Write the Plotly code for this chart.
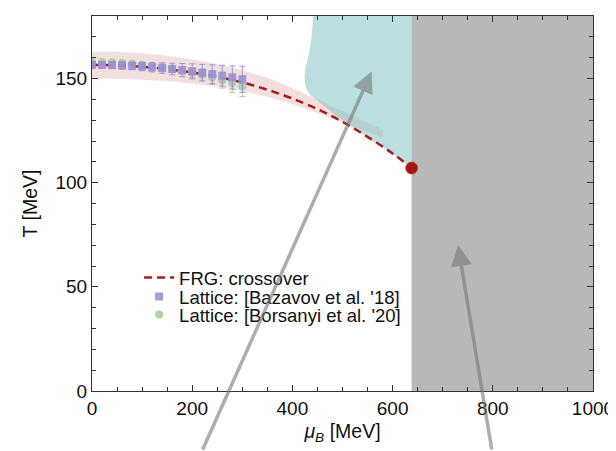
import plotly.graph_objects as go

# ---- data ----
frg_mu = [0, 50, 100, 150, 200, 250, 300, 350, 400, 450, 500, 550, 600, 638]
frg_T = [156.5, 156.3, 155.6, 154.5, 152.9, 150.8, 148.1, 144.6, 140.4, 135.3, 129.2, 122.0, 114.0, 107.0]

cep_mu = [638]
cep_T = [107.0]

band_mu = [0, 50, 100, 150, 200, 250, 300, 350, 400, 450, 500, 550, 580]
band_hi = [163.0, 162.8, 162.1, 160.9, 159.2, 157.0, 154.0, 150.3, 145.5, 140.0, 134.5, 129.0, 125.5]
band_lo = [150.0, 149.9, 149.5, 148.8, 147.6, 146.0, 143.9, 141.2, 137.8, 133.5, 129.0, 124.5, 121.5]

teal_mu = [442, 440, 437, 433, 430, 426, 424.5, 425, 428.5, 436, 448.5, 475, 508, 550, 600, 638, 638]
teal_T = [180, 173, 167, 162, 159, 155, 151, 147.5, 144.5, 142, 139.7, 134.5, 128.5, 121.5, 113.8, 107, 180]

lat_mu = [0, 20, 40, 60, 80, 100, 120, 140, 160, 180, 200, 220, 240, 260, 280, 300]
baz_T = [156.5, 156.47, 156.38, 156.22, 156.01, 155.73, 155.40, 155.0, 154.54, 154.02, 153.43, 152.79, 152.08, 151.32, 150.49, 149.6]
baz_err = [1.5, 1.5, 1.6, 1.7, 1.8, 2.0, 2.2, 2.5, 2.8, 3.2, 3.6, 4.0, 4.5, 5.0, 5.6, 6.3]
bor_T = [158.0, 157.95, 157.79, 157.53, 157.17, 156.7, 156.13, 155.45, 154.67, 153.79, 152.8, 151.71, 150.51, 149.21, 147.81, 146.3]
bor_err = [0.6, 0.6, 0.7, 0.8, 0.9, 1.0, 1.2, 1.4, 1.7, 2.0, 2.4, 2.8, 3.3, 3.8, 4.4, 5.0]

gray_mu = [638, 1000]
T_range = [0, 180]

# arrows: (tail_mu, tail_T, head_mu, head_T)
arrows = [(219.6, -28.8, 558, 153.3), (798.4, -28.8, 730.5, 70.1)]

x_ticks = [0, 200, 400, 600, 800, 1000]
y_ticks = [0, 50, 100, 150]

FONT = "Liberation Sans, Arial, Helvetica, sans-serif"

fig = go.Figure()

# uncertainty band
fig.add_trace(go.Scatter(
    x=band_mu + band_mu[::-1], y=band_hi + band_lo[::-1],
    fill="toself", fillcolor="rgba(205,110,110,0.22)",
    line=dict(width=0), mode="lines", hoverinfo="skip", showlegend=False))

# teal region
fig.add_trace(go.Scatter(
    x=teal_mu, y=teal_T, fill="toself", fillcolor="rgba(120,190,190,0.5)",
    line=dict(width=0), mode="lines", hoverinfo="skip", showlegend=False))

# FRG crossover line
fig.add_trace(go.Scatter(
    x=frg_mu, y=frg_T, mode="lines", name="FRG: crossover", legend="legend",
    line=dict(color="#a81c1c", width=2.5, dash="8px,5px", shape="spline")))

# lattice Borsanyi (drawn behind)
fig.add_trace(go.Scatter(
    x=lat_mu, y=bor_T, mode="markers", name="Lattice: [Borsanyi et al. '20]", legend="legend3",
    marker=dict(symbol="circle", size=8, color="rgba(160,205,150,0.85)"),
    error_y=dict(type="data", array=bor_err, color="rgba(160,205,150,0.9)", thickness=1, width=3)))

# lattice Bazavov
fig.add_trace(go.Scatter(
    x=lat_mu, y=baz_T, mode="markers", name="Lattice: [Bazavov et al. '18]", legend="legend2",
    marker=dict(symbol="square", size=8, color="rgba(150,140,215,0.85)"),
    error_y=dict(type="data", array=baz_err, color="rgba(150,140,215,0.9)", thickness=1, width=3)))

# critical end point
fig.add_trace(go.Scatter(
    x=cep_mu, y=cep_T, mode="markers", showlegend=False,
    marker=dict(size=12, color="#a01818", line=dict(width=1, color="rgba(200,60,60,0.8)"))))

fig.add_shape(type="rect", xref="x", yref="y", x0=gray_mu[0], x1=gray_mu[1],
              y0=T_range[0], y1=T_range[1], fillcolor="#b8b8b8", line=dict(width=0), layer="below")

for (tx, ty, hx, hy) in arrows:
    fig.add_annotation(x=hx, y=hy, ax=tx, ay=ty, xref="x", yref="y", axref="x", ayref="y",
                       showarrow=True, arrowhead=2, arrowsize=1.2, arrowwidth=3.5,
                       arrowcolor="rgba(120,120,120,0.6)", text="")

axis_common = dict(showline=True, linecolor="#333333", linewidth=1, mirror="ticks",
                   ticks="inside", tickcolor="#333333", showgrid=False, zeroline=False,
                   automargin=False,
                   tickfont=dict(family=FONT, size=19, color="#111111"))

fig.update_xaxes(range=[0, 1000], tickvals=x_ticks, ticklen=6,
                 minor=dict(dtick=50, ticks="inside", ticklen=4, tickcolor="#333333"),
                 title=dict(text="<i>μ</i><sub><i>B</i></sub> [MeV]", font=dict(family=FONT, size=19.5, color="#111111"), standoff=6),
                 **axis_common)
fig.update_yaxes(range=T_range, tickvals=y_ticks, ticklen=6,
                 minor=dict(dtick=10, ticks="inside", ticklen=4, tickcolor="#333333"),
                 title=dict(text="T [MeV]", font=dict(family=FONT, size=19.5, color="#111111"), standoff=12),
                 **axis_common)

leg_common = dict(x=0.094, xanchor="left", yanchor="middle", bgcolor="rgba(0,0,0,0)",
                  font=dict(family=FONT, size=18.5, color="#111111"))

# the page body adds an 8px offset, so the figure is 8px smaller with 8px less margin top/left
fig.update_layout(
    width=608, height=443, margin=dict(l=84, r=23, t=8, b=60),
    plot_bgcolor="white", paper_bgcolor="white",
    legend=dict(y=0.3013, **leg_common),
    legend2=dict(y=0.2507, **leg_common),
    legend3=dict(y=0.2027, **leg_common),
)

fig.write_html("out.html")
